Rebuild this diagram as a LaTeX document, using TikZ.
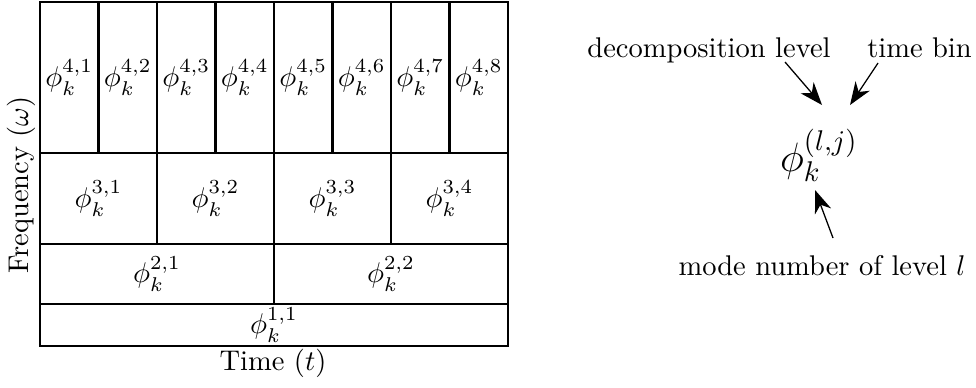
\documentclass[tikz,border=0pt]{standalone}
\usetikzlibrary{arrows.meta}
\begin{document}
\begin{tikzpicture}[x=0.351pt,y=-0.351pt,
  cell/.style={draw,line width=0.85pt,inner sep=0pt,anchor=center},
  arr/.style={-{Stealth[length=8pt,width=6pt,inset=2.5pt]},line width=0.45pt},
  lbl/.style={inner sep=0pt,anchor=base}]
\useasboundingbox (0,0) rectangle (976,387);
% level 4
\foreach \i in {1,...,8}{
  \node[cell,minimum width=58.5*0.351pt,minimum height=151*0.351pt] (c4\i) at ({40+58.5*(\i-0.5)},77.5) {$\phi_k^{4,\i}$};
}
% level 3
\foreach \i in {1,...,4}{
  \node[cell,minimum width=117*0.351pt,minimum height=91*0.351pt] (c3\i) at ({40+117*(\i-0.5)},198.5) {$\phi_k^{3,\i}$};
}
% level 2
\foreach \i in {1,2}{
  \node[cell,minimum width=234*0.351pt,minimum height=60*0.351pt] (c2\i) at ({40+234*(\i-0.5)},274) {$\phi_k^{2,\i}$};
}
% level 1
\node[cell,minimum width=468*0.351pt,minimum height=42*0.351pt] (c11) at (274,325) {$\phi_k^{1,1}$};
% axis labels
\node[inner sep=0pt] (tlab) at (273,363) {Time $(t)$};
\node[inner sep=0pt,rotate=90] (flab) at (21,185) {Frequency $(\omega)$};
% right legend
\node[lbl] (dec) at (709,57) {decomposition level};
\node[lbl] (tb) at (919.5,57) {time bin};
\node[inner sep=0pt] (phi) at (819,155.5) {\Large$\phi_k^{(l,j)}$};
\node[lbl] (mode) at (822,275) {mode number of level $l$};
\coordinate (a1s) at (785,62);
\coordinate (a1e) at (822,105);
\coordinate (a2s) at (878,63);
\coordinate (a2e) at (850,105);
\coordinate (a3s) at (833,238);
\coordinate (a3e) at (815,190);
\draw[arr] (a1s) -- (a1e);
\draw[arr] (a2s) -- (a2e);
\draw[arr] (a3s) -- (a3e);
\end{tikzpicture}
\end{document}
